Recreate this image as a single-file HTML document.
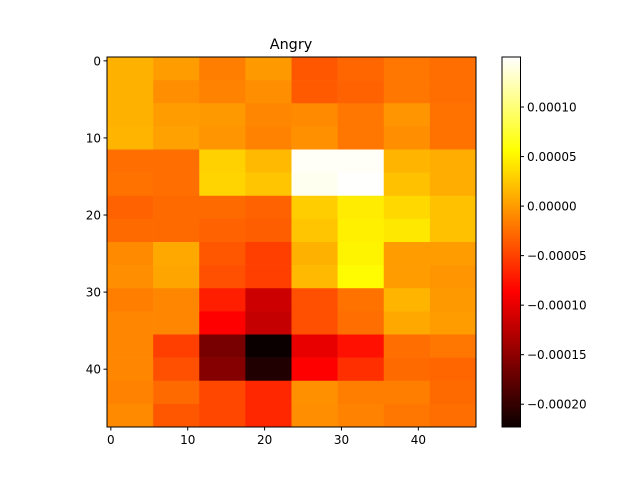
<!DOCTYPE html>
<html><head><meta charset="utf-8"><style>
body{margin:0;background:#fff;}
svg text{font-family:"DejaVu Sans","Liberation Sans",sans-serif;font-size:12px;fill:#000;}
</style></head><body>
<svg id="chart" width="640" height="480" viewBox="0 0 640 480" xmlns="http://www.w3.org/2000/svg">
<defs>
<linearGradient id="hot" x1="0" y1="1" x2="0" y2="0">
<stop offset="0" stop-color="#0b0000"/>
<stop offset="0.365" stop-color="#ff0000"/>
<stop offset="0.746" stop-color="#ffff00"/>
<stop offset="1" stop-color="#ffffff"/>
</linearGradient>
</defs>
<text x="291" y="49" text-anchor="middle" style="font-size:14.4px">Angry</text>
<g id="cells"></g>
<rect x="107" y="57" width="369" height="370" fill="none" stroke="#000" stroke-width="1"/>
<g id="axes"></g>
<rect x="502" y="57" width="18.5" height="370" fill="url(#hot)" stroke="#000" stroke-width="1"/>
<g id="cbar"></g>
</svg>
<script>
const rowValues0 = [1.21,0.11,-1.64,-0.11,-3.84,-2.96,-2.08,-2.52];
const rowValues1 = [1.21,-0.76,-1.42,-0.76,-3.62,-3.18,-2.08,-2.52];
const rowValues2 = [1.21,0.11,-0.11,-1.2,-0.98,-2.08,-0.33,-2.3];
const rowValues3 = [1.43,0.33,-0.33,-1.42,-0.55,-2.08,-0.76,-2.3];
const rowValues4 = [-2.52,-2.52,2.97,1.65,14.8,14.8,1.43,0.99];
const rowValues5 = [-2.3,-2.52,3.19,2.31,14.5,15.0,2.09,0.99];
const rowValues6 = [-3.18,-2.74,-2.74,-3.18,2.75,4.51,3.41,2.09];
const rowValues7 = [-2.74,-2.74,-3.18,-3.4,2.31,4.73,4.29,2.09];
const rowValues8 = [-0.98,0.77,-3.84,-5.16,1.21,4.95,0.11,0.11];
const rowValues9 = [-0.76,0.55,-4.28,-5.16,1.65,5.33,0.11,-0.33];
const rowValues10 = [-1.64,-1.2,-6.91,-11.4,-4.28,-2.3,1.43,-0.11];
const rowValues11 = [-1.2,-1.2,-8.67,-11.8,-4.28,-2.52,0.77,0.11];
const rowValues12 = [-1.2,-5.16,-15.9,-22.2,-9.9,-7.79,-2.52,-2.08];
const rowValues13 = [-1.2,-4.28,-15.2,-20.6,-8.67,-6.04,-2.74,-2.96];
const rowValues14 = [-1.42,-2.74,-4.72,-6.47,-0.55,-1.64,-1.64,-2.74];
const rowValues15 = [-0.98,-3.84,-4.72,-6.47,-0.76,-1.42,-2.08,-2.52];
const grid = [rowValues0,rowValues1,rowValues2,rowValues3,rowValues4,rowValues5,rowValues6,rowValues7,rowValues8,rowValues9,rowValues10,rowValues11,rowValues12,rowValues13,rowValues14,rowValues15];
const valueScale = 1e-5;
const xTicks = [0,10,20,30,40];
const yTicks = [0,10,20,30,40];
const cbarTicks = [0.0001,0.00005,0,-0.00005,-0.0001,-0.00015,-0.0002];
const cbarLabels = ["0.00010","0.00005","0.00000","\u22120.00005","\u22120.00010","\u22120.00015","\u22120.00020"];
const vmin = -22.3e-5, vmax = 15.05e-5;

const NS="http://www.w3.org/2000/svg";
const L=107,T=57,W=369,H=370;
const xS=v=>L+(v+0.5)/48*W;
const yS=v=>T+(v+0.5)/48*H;
const cS=v=>T+H-(v-vmin)/(vmax-vmin)*H;
function hot(v){
  let t=Math.max(0,Math.min(1,(v-vmin)/(vmax-vmin)));
  const r=Math.min(1,t/0.365), g=Math.max(0,Math.min(1,(t-0.365)/0.381)), b=Math.max(0,Math.min(1,(t-0.746)/0.254));
  const f=x=>Math.round(x*255);
  return `rgb(${f(Math.max(0.0416,r))},${f(g)},${f(b)})`;
}
function mk(tag,attrs,parent){const e=document.createElementNS(NS,tag);for(const k in attrs)e.setAttribute(k,attrs[k]);parent.appendChild(e);return e;}
const cells=document.getElementById('cells');
grid.forEach((row,i)=>row.forEach((v,j)=>{
  const x0=xS(6*j-0.5), x1=xS(6*j+5.5), y0=yS(3*i-0.5), y1=yS(3*i+2.5);
  const r=mk('rect',{x:x0,y:y0,width:x1-x0+0.3,height:y1-y0+0.3,fill:hot(v*valueScale)},cells);
  
  
}));
const ax=document.getElementById('axes');
xTicks.forEach(t=>{
  const x=xS(t);
  const l=mk('line',{x1:x,x2:x,y1:T+H,y2:T+H+3.5,stroke:'#000'},ax);
  
  
  const tx=mk('text',{x:x,y:T+H+17,'text-anchor':'middle'},ax);tx.textContent=t;
  
  
});
yTicks.forEach(t=>{
  const y=yS(t);
  const l=mk('line',{x1:L-3.5,x2:L,y1:y,y2:y,stroke:'#000'},ax);
  
  
  const tx=mk('text',{x:L-6,y:y+4.5,'text-anchor':'end'},ax);tx.textContent=t;
  
  
});
const cb=document.getElementById('cbar');
cbarTicks.forEach((t,k)=>{
  const y=cS(t);
  const l=mk('line',{x1:520.5,x2:524,y1:y,y2:y,stroke:'#000'},cb);
  
  
  const tx=mk('text',{x:527,y:y+4.5},cb);tx.textContent=cbarLabels[k];
  
  
});
</script>
</body></html>
